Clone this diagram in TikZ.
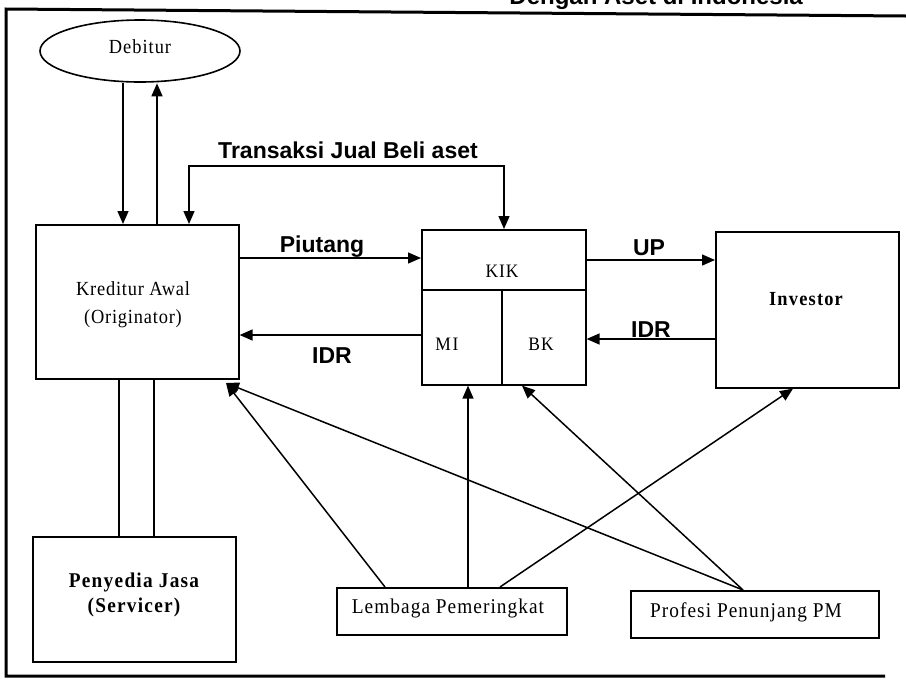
\documentclass[tikz,border=0pt]{standalone}
\usepackage{fontspec}
\setmainfont{Liberation Serif}
\setsansfont{Liberation Sans}
\usetikzlibrary{arrows.meta,shapes.geometric}
\begin{document}
\begin{tikzpicture}[x=1pt,y=-1pt,
  box/.style={draw, line width=1.6pt, inner sep=0pt, anchor=north west},
  frameline/.style={line width=3pt},
  conn/.style={line width=1.5pt},
  arr/.style={line width=1.5pt, -{Triangle[length=13pt,width=11pt]}},
  arrboth/.style={line width=1.5pt, {Triangle[length=13pt,width=11pt]}-{Triangle[length=13pt,width=11pt]}},
  lbl/.style={font=\sffamily\bfseries\fontsize{23}{26}\selectfont, anchor=base, inner sep=0pt},
  sertxt/.style={anchor=base, inner sep=0pt},
]
\useasboundingbox (0,0) rectangle (906,681);
\fill[white] (0,0) rectangle (906,681);

% title (cut off at top, as in the reference)
\node[font=\sffamily\bfseries\fontsize{24}{26}\selectfont, anchor=base east, inner sep=0pt] (title) at (803,4) {Dengan Aset di Indonesia};

% frame
\draw[frameline] (906,16) -- (6,9) -- (6,676) -- (885,676);

% nodes
\node[draw, ellipse, line width=1.6pt, minimum width=200, minimum height=62, inner sep=0pt] (deb) at (140,51) {};
\node[sertxt] (debt) at (140,53) {\fontsize{20}{22}\selectfont\addfontfeatures{FakeStretch=0.92,LetterSpace=5}Debitur};

\node[box, minimum width=203, minimum height=154] (kred) at (35,224) {};
\node[sertxt] (kredt1) at (133,295) {\fontsize{20}{22}\selectfont\addfontfeatures{FakeStretch=0.92,LetterSpace=4}Kreditur Awal};
\node[sertxt] (kredt2) at (133,323) {\fontsize{20}{22}\selectfont\addfontfeatures{FakeStretch=0.92,LetterSpace=4}(Originator)};

\node[box, minimum width=164, minimum height=155] (kik) at (421,229) {};
\node[sertxt] (kikt) at (502,277) {\fontsize{19}{22}\selectfont\addfontfeatures{FakeStretch=0.92,LetterSpace=5}KIK};
\node[sertxt] (mit) at (447,350) {\fontsize{19}{22}\selectfont\addfontfeatures{FakeStretch=0.92,LetterSpace=9}MI};
\node[sertxt] (bkt) at (541,350) {\fontsize{19}{22}\selectfont\addfontfeatures{FakeStretch=0.92,LetterSpace=6}BK};

\node[box, minimum width=183, minimum height=156] (inv) at (715,231) {};
\node[sertxt] (invt) at (806,305) {\fontsize{20}{22}\selectfont\bfseries\addfontfeatures{FakeStretch=0.92,LetterSpace=6}Investor};

\node[box, minimum width=203, minimum height=125] (peny) at (32,536) {};
\node[sertxt] (penyt1) at (134,587) {\fontsize{21}{22}\selectfont\bfseries\addfontfeatures{FakeStretch=0.92,LetterSpace=6}Penyedia Jasa};
\node[sertxt] (penyt2) at (134,612) {\fontsize{21}{22}\selectfont\bfseries\addfontfeatures{FakeStretch=0.92,LetterSpace=6}(Servicer)};

\node[box, minimum width=230, minimum height=47] (lem) at (336,587) {};
\node[sertxt] (lemt) at (448,613) {\fontsize{21}{22}\selectfont\addfontfeatures{FakeStretch=0.92,LetterSpace=5}Lembaga Pemeringkat};

\node[box, minimum width=248, minimum height=47] (prof) at (630,590) {};
\node[sertxt] (proft) at (746,617) {\fontsize{21}{22}\selectfont\addfontfeatures{FakeStretch=0.92,LetterSpace=5}Profesi Penunjang PM};

% helper coordinates
\coordinate (xa) at (123,0);
\coordinate (xb) at (157,0);
\coordinate (xc) at (119,0);
\coordinate (xd) at (154,0);
\coordinate (t1) at (189,166);
\coordinate (t2) at (504,166);
\coordinate (yP) at (0,258);
\coordinate (yI1) at (0,335);
\coordinate (yU) at (0,260);
\coordinate (yI2) at (0,339);
\coordinate (ydiv) at (0,290);
\coordinate (xdiv) at (502,0);
\coordinate (tipK) at (226,383);
\coordinate (xlA) at (385,0);
\coordinate (xlB) at (468,0);
\coordinate (xlC) at (500,0);
\coordinate (xpA) at (743,0);
\coordinate (xbk) at (522,0);
\coordinate (xinv) at (793,0);

% KIK dividers
\draw[line width=1.6pt] (kik.west |- ydiv) -- (kik.east |- ydiv);
\draw[line width=1.6pt] (xdiv |- ydiv) -- (kik.south -| xdiv);

% Debitur <-> Kreditur
\draw[arr] (deb.south -| xa) -- (kred.north -| xa);
\draw[arr] (kred.north -| xb) -- ([yshift=-0.5pt]deb.south -| xb);

% Transaksi jual beli aset
\draw[arrboth] (kred.north -| t1) -- (t1) -- (t2) -- (kik.north -| t2);
\node[lbl] (ltr) at (348,158) {Transaksi Jual Beli aset};

% Piutang / IDR
\draw[arr] (kred.east |- yP) -- (kik.west |- yP);
\node[lbl] (lpi) at (322,252) {Piutang};
\draw[arr] (kik.west |- yI1) -- (kred.east |- yI1);
\node[lbl] (lidr1) at (332,363) {IDR};

% UP / IDR
\draw[arr] (kik.east |- yU) -- (inv.west |- yU);
\node[lbl] (lup) at (649,255) {UP};
\draw[arr] (inv.west |- yI2) -- (kik.east |- yI2);
\node[lbl] (lidr2) at (651,337) {IDR};

% Kreditur -- Penyedia
\draw[conn] (kred.south -| xc) -- (peny.north -| xc);
\draw[conn] (kred.south -| xd) -- (peny.north -| xd);

% Lembaga arrows
\draw[arr] (lem.north -| xlA) -- (tipK);
\draw[arr] (lem.north -| xlB) -- (kik.south -| xlB);
\draw[arr] (lem.north -| xlC) -- (inv.south -| xinv);

% Profesi arrows
\draw[arr] (prof.north -| xpA) -- (tipK);
\draw[arr] (prof.north -| xpA) -- (kik.south -| xbk);
\end{tikzpicture}
\end{document}
